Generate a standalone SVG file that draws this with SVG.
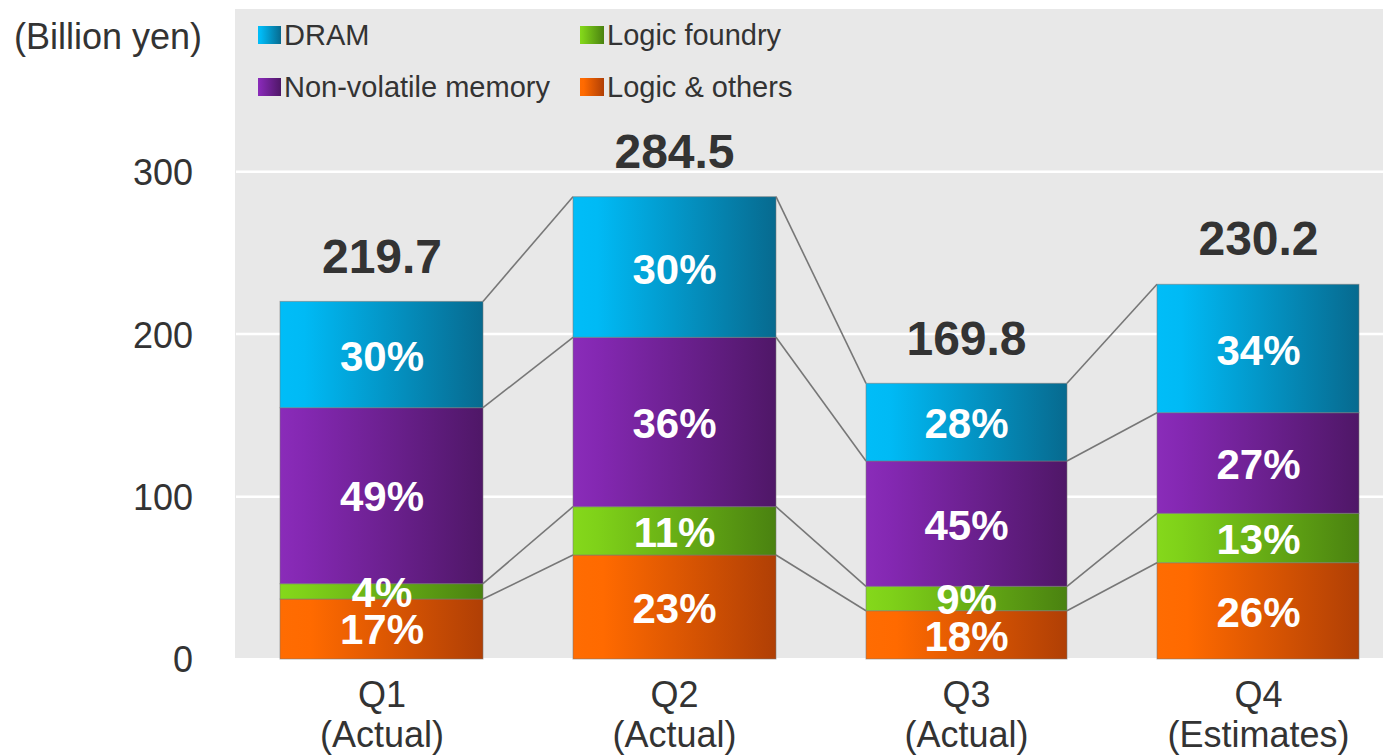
<svg xmlns="http://www.w3.org/2000/svg" width="1383" height="756" viewBox="0 0 1383 756">
<style>
text{font-family:"Liberation Sans",Arial,sans-serif}
.ax{font-size:36px;fill:#333}
.lg{font-size:29px;fill:#333}
.val{font-size:48px;font-weight:bold;fill:#333;text-anchor:middle}
.pct{font-size:42px;font-weight:bold;fill:#fff;text-anchor:middle}
.cat{font-size:36px;fill:#333;text-anchor:middle}
.seg{stroke:#7a7a7a;stroke-opacity:0.55;stroke-width:1}
.grid{stroke:#fff;stroke-width:2.5}
.con{stroke:#777;stroke-width:1.6;fill:none}
</style>
<defs>
<linearGradient id="gDram" x1="0" y1="0" x2="1" y2="0"><stop offset="0" stop-color="#00bdf8"/><stop offset="0.12" stop-color="#00baf5"/><stop offset="1" stop-color="#076a8f"/></linearGradient>
<linearGradient id="gNvm" x1="0" y1="0" x2="1" y2="0"><stop offset="0" stop-color="#8a2cb9"/><stop offset="0.12" stop-color="#8428b2"/><stop offset="1" stop-color="#4f1767"/></linearGradient>
<linearGradient id="gLf" x1="0" y1="0" x2="1" y2="0"><stop offset="0" stop-color="#85d81b"/><stop offset="0.12" stop-color="#7fd119"/><stop offset="1" stop-color="#4a8210"/></linearGradient>
<linearGradient id="gLo" x1="0" y1="0" x2="1" y2="0"><stop offset="0" stop-color="#ff6c02"/><stop offset="0.15" stop-color="#ff6a00"/><stop offset="1" stop-color="#b03f05"/></linearGradient>
</defs>
<rect width="1383" height="756" fill="#fff"/>
<rect x="235" y="9" width="1148" height="649" fill="#e8e8e8"/>
<g id="gridlines">
<line class="grid" x1="236" y1="171.7" x2="1383" y2="171.7"/>
<line class="grid" x1="236" y1="334" x2="1383" y2="334"/>
<line class="grid" x1="236" y1="496.7" x2="1383" y2="496.7"/>
</g>
<g id="axis">
<text class="ax" x="14" y="49">(Billion yen)</text>
<text class="ax" x="193" y="185" text-anchor="end">300</text>
<text class="ax" x="193" y="348" text-anchor="end">200</text>
<text class="ax" x="193" y="510" text-anchor="end">100</text>
<text class="ax" x="193" y="672" text-anchor="end">0</text>
</g>
<g id="legend">
<rect x="258" y="26" width="23" height="18" fill="url(#gDram)"/>
<text class="lg" x="284" y="45">DRAM</text>
<rect x="580" y="26" width="24" height="18" fill="url(#gLf)"/>
<text class="lg" x="607" y="45">Logic foundry</text>
<rect x="258" y="78" width="23" height="18" fill="url(#gNvm)"/>
<text class="lg" x="284" y="97">Non-volatile memory</text>
<rect x="580" y="78" width="24" height="18" fill="url(#gLo)"/>
<text class="lg" x="607" y="97">Logic &amp; others</text>
</g>
<g id="connectors">
<line class="con" x1="483" y1="301.4" x2="573" y2="196.7"/>
<line class="con" x1="483" y1="407.7" x2="573" y2="337.3"/>
<line class="con" x1="483" y1="583.7" x2="573" y2="506.7"/>
<line class="con" x1="483" y1="599" x2="573" y2="555"/>
<line class="con" x1="776" y1="196.7" x2="866" y2="383.3"/>
<line class="con" x1="776" y1="337.3" x2="866" y2="461"/>
<line class="con" x1="776" y1="506.7" x2="866" y2="586.3"/>
<line class="con" x1="776" y1="555" x2="866" y2="610.7"/>
<line class="con" x1="1067" y1="383.3" x2="1157" y2="284.3"/>
<line class="con" x1="1067" y1="461" x2="1157" y2="412.7"/>
<line class="con" x1="1067" y1="586.3" x2="1157" y2="513.3"/>
<line class="con" x1="1067" y1="610.7" x2="1157" y2="562.7"/>
</g>
<g id="barQ1">
<rect class="seg" x="280" y="599" width="203" height="60" fill="url(#gLo)"/>
<rect class="seg" x="280" y="583.7" width="203" height="15.3" fill="url(#gLf)"/>
<rect class="seg" x="280" y="407.7" width="203" height="176" fill="url(#gNvm)"/>
<rect class="seg" x="280" y="301.4" width="203" height="106.3" fill="url(#gDram)"/>
<text class="pct" x="382" y="371">30%</text>
<text class="pct" x="382" y="511">49%</text>
<text class="pct" x="382" y="607">4%</text>
<text class="pct" x="382" y="644">17%</text>
<text class="val" x="382" y="273">219.7</text>
<text class="cat" x="382" y="707">Q1</text>
<text class="cat" x="382" y="747">(Actual)</text>
</g>
<g id="barQ2">
<rect class="seg" x="573" y="555" width="203" height="104" fill="url(#gLo)"/>
<rect class="seg" x="573" y="506.7" width="203" height="48.3" fill="url(#gLf)"/>
<rect class="seg" x="573" y="337.3" width="203" height="169.4" fill="url(#gNvm)"/>
<rect class="seg" x="573" y="196.7" width="203" height="140.6" fill="url(#gDram)"/>
<text class="pct" x="674.5" y="284">30%</text>
<text class="pct" x="674.5" y="438">36%</text>
<text class="pct" x="674.5" y="547">11%</text>
<text class="pct" x="674.5" y="623">23%</text>
<text class="val" x="674.5" y="168">284.5</text>
<text class="cat" x="674.5" y="707">Q2</text>
<text class="cat" x="674.5" y="747">(Actual)</text>
</g>
<g id="barQ3">
<rect class="seg" x="866" y="610.7" width="201" height="48.3" fill="url(#gLo)"/>
<rect class="seg" x="866" y="586.3" width="201" height="24.4" fill="url(#gLf)"/>
<rect class="seg" x="866" y="461" width="201" height="125.3" fill="url(#gNvm)"/>
<rect class="seg" x="866" y="383.3" width="201" height="77.7" fill="url(#gDram)"/>
<text class="pct" x="966.5" y="438">28%</text>
<text class="pct" x="966.5" y="540">45%</text>
<text class="pct" x="966.5" y="614">9%</text>
<text class="pct" x="966.5" y="651">18%</text>
<text class="val" x="966.5" y="355">169.8</text>
<text class="cat" x="966.5" y="707">Q3</text>
<text class="cat" x="966.5" y="747">(Actual)</text>
</g>
<g id="barQ4">
<rect class="seg" x="1157" y="562.7" width="202" height="96.3" fill="url(#gLo)"/>
<rect class="seg" x="1157" y="513.3" width="202" height="49.4" fill="url(#gLf)"/>
<rect class="seg" x="1157" y="412.7" width="202" height="100.6" fill="url(#gNvm)"/>
<rect class="seg" x="1157" y="284.3" width="202" height="128.4" fill="url(#gDram)"/>
<text class="pct" x="1258.5" y="365">34%</text>
<text class="pct" x="1258.5" y="479">27%</text>
<text class="pct" x="1258.5" y="554">13%</text>
<text class="pct" x="1258.5" y="627">26%</text>
<text class="val" x="1258.5" y="255">230.2</text>
<text class="cat" x="1258.5" y="707">Q4</text>
<text class="cat" x="1258.5" y="747">(Estimates)</text>
</g>
</svg>
